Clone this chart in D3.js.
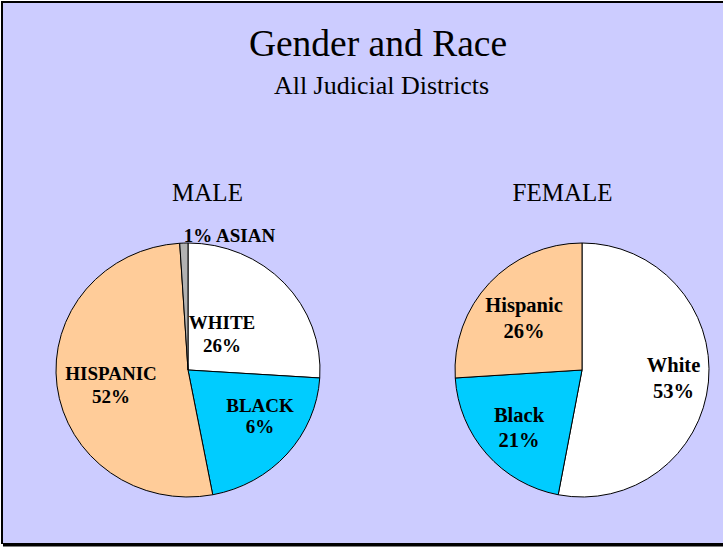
<!DOCTYPE html>
<html>
<head>
<meta charset="utf-8">
<script src="https://cdn.jsdelivr.net/npm/d3@7"></script>
<style>
html,body{margin:0;padding:0;background:#fff;}
svg{display:block;}
text{font-family:"Liberation Serif","Times New Roman",serif;fill:#000;}
</style>
</head>
<body>
<script>
// ---- data ----
const maleCategories = ["WHITE", "BLACK", "HISPANIC", "ASIAN"];
const maleValues = [26, 21, 52, 1];
const maleLabelText = ["26%", "6%", "52%", "1%"];
const femaleCategories = ["White", "Black", "Hispanic"];
const femaleValues = [53, 21, 26];
const femaleLabelText = ["53%", "21%", "26%"];
const colorsByRace = {white: "#FFFFFF", black: "#00CCFF", hispanic: "#FFCC99", asian: "#B2B2B2"};

const W = 723, H = 548;
const svg = d3.select("body").append("svg").attr("width", W).attr("height", H);

// frame
svg.append("rect").attr("x", 3).attr("y", 3).attr("width", W - 3).attr("height", 540).attr("fill", "#CCCCFF");
svg.append("rect").attr("x", 1).attr("y", 1).attr("width", 2).attr("height", 543).attr("fill", "#000");
svg.append("rect").attr("x", 1).attr("y", 1).attr("width", W - 1).attr("height", 2).attr("fill", "#000");
svg.append("rect").attr("x", 3).attr("y", 543).attr("width", W - 3).attr("height", 3.5).attr("fill", "#000");

// titles
svg.append("text").attr("x", 378).attr("y", 56).attr("text-anchor", "middle")
  .attr("font-size", 37.5).text("Gender and Race");
svg.append("text").attr("x", 381.5).attr("y", 94).attr("text-anchor", "middle")
  .attr("font-size", 26).text("All Judicial Districts");

const pie = d3.pie().sort(null).value(d => d).startAngle(0).endAngle(2 * Math.PI);

function drawPie(cx, cy, r, sx, cats, vals, title, titleX, labelSize, labelPos) {
  svg.append("text").attr("x", titleX).attr("y", 201).attr("text-anchor", "middle")
    .attr("font-size", 25).text(title);
  const g = svg.append("g").attr("transform", `translate(${cx},${cy}) scale(${sx},1)`);
  const arc = d3.arc().innerRadius(0).outerRadius(r);
  g.selectAll("path").data(pie(vals)).join("path")
    .attr("d", arc)
    .attr("fill", (d, i) => colorsByRace[cats[i].toLowerCase()])
    .attr("stroke", "#000").attr("stroke-width", 1)
    .attr("vector-effect", "non-scaling-stroke")
    .attr("stroke-linejoin", "round");
  labelPos.forEach(lp => {
    const t = svg.append("text").attr("text-anchor", "middle")
      .attr("font-weight", "bold").attr("font-size", lp.size || labelSize);
    lp.lines.forEach((ln, k) => {
      t.append("tspan").attr("x", cx + lp.dx).attr("y", cy + lp.dy + k * lp.lh).text(ln);
    });
  });
}

// male pie (slightly wider than tall in the reference)
drawPie(188, 370, 127, 132 / 127, maleCategories, maleValues, "MALE", 207.5, 19, [
  {lines: [maleCategories[0], maleLabelText[0]], dx: 34, dy: -41, lh: 23},
  {lines: [maleCategories[1], maleLabelText[1]], dx: 72, dy: 42, lh: 21},
  {lines: [maleCategories[2], maleLabelText[2]], dx: -77, dy: 10, lh: 23},
  {lines: [maleLabelText[3] + " " + maleCategories[3]], dx: 41.5, dy: -128, lh: 0, size: 19}
]);

// female pie
drawPie(582, 370, 127, 1, femaleCategories, femaleValues, "FEMALE", 562.5, 20.5, [
  {lines: [femaleCategories[0], femaleLabelText[0]], dx: 91.5, dy: 2, lh: 26},
  {lines: [femaleCategories[1], femaleLabelText[1]], dx: -63, dy: 51.5, lh: 25.6},
  {lines: [femaleCategories[2], femaleLabelText[2]], dx: -58, dy: -58.5, lh: 26.6}
]);
</script>
</body>
</html>
